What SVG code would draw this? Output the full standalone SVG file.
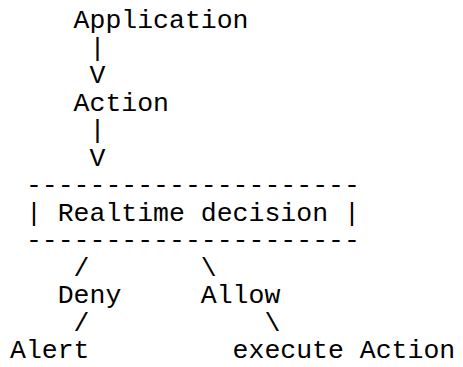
<svg xmlns="http://www.w3.org/2000/svg" width="463" height="367" viewBox="0 0 463 367">
<style>
text{font-family:"Liberation Mono","Courier New",monospace;font-size:26.5px;fill:#000;white-space:pre}
</style>
<rect width="463" height="367" fill="#fff"/>
<g id="application"><text x="73.6" y="28">Application</text></g>
<g id="action"><text x="73.6" y="110.5">Action</text></g>
<g id="decision">
<text x="25.9" y="193">---------------------</text>
<text x="25.9" y="220.5" xml:space="preserve">| Realtime decision |</text>
<text x="25.9" y="248">---------------------</text>
</g>
<g id="deny"><text x="57.7" y="303">Deny</text></g>
<g id="allow"><text x="200.8" y="303">Allow</text></g>
<g id="alert"><text x="10" y="358">Alert</text></g>
<g id="execute"><text x="232.6" y="358">execute Action</text></g>
<g id="connectors">
<text x="89.5" y="55.5">|</text>
<text x="89.5" y="83">V</text>
<text x="89.5" y="138">|</text>
<text x="89.5" y="165.5">V</text>
<text x="73.6" y="275.5">/</text>
<text x="200.8" y="275.5">\</text>
<text x="73.6" y="330.5">/</text>
<text x="264.4" y="330.5">\</text>
</g>
</svg>
